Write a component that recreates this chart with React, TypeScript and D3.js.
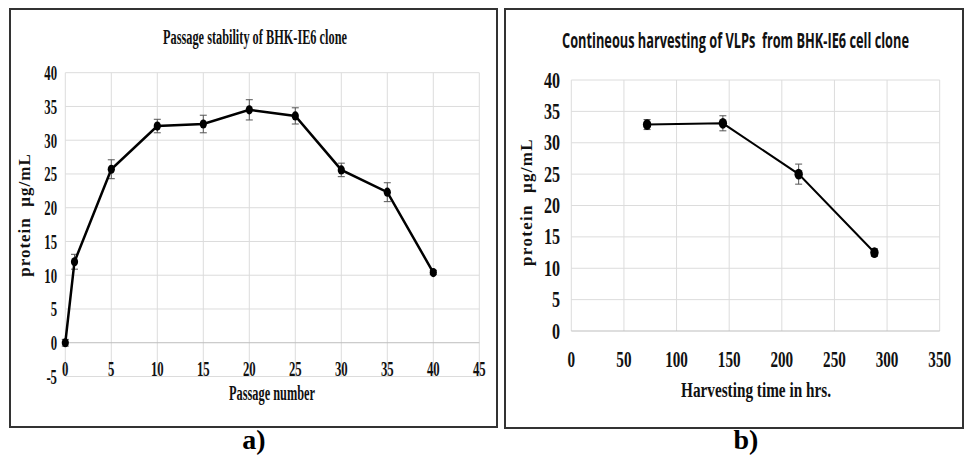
import React, { useEffect, useRef } from 'react';
import * as d3 from 'd3';

// panel a) passage stability
const passageNumbers = [0, 1, 5, 10, 15, 20, 25, 30, 35, 40];
const passageProtein = [0, 12.0, 25.7, 32.1, 32.4, 34.5, 33.6, 25.6, 22.3, 10.4];
const passageError = [0.5, 1.1, 1.4, 1.0, 1.3, 1.5, 1.2, 1.0, 1.4, 0.3];
const passageXTicks = [0, 5, 10, 15, 20, 25, 30, 35, 40, 45];
const passageYTicks = [-5, 0, 5, 10, 15, 20, 25, 30, 35, 40];

// panel b) continuous harvesting
const harvestHours = [72, 144, 216, 288];
const harvestProtein = [32.9, 33.1, 25.0, 12.5];
const harvestError = [0.8, 1.2, 1.6, 0.6];
const harvestXTicks = [0, 50, 100, 150, 200, 250, 300, 350];
const harvestYTicks = [0, 5, 10, 15, 20, 25, 30, 35, 40];

const serif = 'Liberation Serif, DejaVu Serif, serif';
const sans = 'Open Sans, Liberation Sans, sans-serif';

function App() {
    const svgRef = useRef<SVGSVGElement>(null);

    useEffect(() => {
        const svg = d3.select(svgRef.current);
        svg.selectAll('*').remove();

        svg.append('rect').attr('width', 968).attr('height', 463).attr('fill', 'white');

        // condensed text helper (narrow bold serif like the original)
        const condText = (g: any, x: number, y: number, txt: string, size: number, anchor: string, sx: number) => {
            g.append('text')
                .attr('transform', `translate(${x},${y}) scale(${sx},1)`)
                .attr('text-anchor', anchor)
                .style('font-family', serif)
                .attr('font-weight', 'bold')
                .attr('font-size', size)
                .attr('fill', '#111')
                .text(txt);
        };

        // centred text squeezed horizontally to a given width
        const fitText = (g: any, cx: number, y: number, txt: string, size: number, width: number, family: string) => {
            const t = g.append('text')
                .attr('text-anchor', 'middle')
                .style('font-family', family).style('white-space', 'pre')
                .attr('font-weight', 'bold')
                .attr('font-size', size)
                .attr('fill', '#111')
                .text(txt);
            const w = (t.node() as SVGTextElement).getComputedTextLength() || width;
            t.attr('transform', `translate(${cx},${y}) scale(${width / w},1)`);
        };

        // ---------- panel a ----------
        svg.append('rect')
            .attr('x', 10).attr('y', 9).attr('width', 487).attr('height', 418)
            .attr('fill', 'none').attr('stroke', '#333').attr('stroke-width', 2);

        const xA = d3.scaleLinear().domain([0, 45]).range([65.3, 479.3]);
        const yA = d3.scaleLinear().domain([-5, 40]).range([376.5, 72.7]);
        const gA = svg.append('g');

        gA.selectAll('.vgrid').data(passageXTicks).enter().append('line')
            .attr('x1', d => xA(d)).attr('x2', d => xA(d))
            .attr('y1', yA(-5)).attr('y2', yA(40))
            .attr('stroke', '#dcdcdc').attr('stroke-width', 1);
        gA.selectAll('.hgrid').data(passageYTicks).enter().append('line')
            .attr('x1', xA(0)).attr('x2', xA(45))
            .attr('y1', d => yA(d)).attr('y2', d => yA(d))
            .attr('stroke', d => d === 0 ? '#bdbdbd' : '#dcdcdc').attr('stroke-width', 1);

        passageYTicks.forEach(t => condText(gA, 57, yA(t) + 7.5, String(t), 22, 'end', 0.58));
        passageXTicks.forEach(t => condText(gA, xA(t), 376, String(t), 22, 'middle', 0.58));

        fitText(gA, 255, 44, 'Passage stability of BHK-IE6 clone', 22, 184, serif);
        fitText(gA, 272, 400, 'Passage number', 22, 86, serif);

        gA.append('text')
            .attr('transform', 'translate(30,215) rotate(-90)')
            .attr('text-anchor', 'middle')
            .style('font-family', serif).style('white-space', 'pre')
            .attr('font-weight', 'bold').attr('font-size', 17)
            .attr('letter-spacing', 1)
            .attr('fill', '#111')
            .text('protein  µg/mL');

        const dataA = passageNumbers.map((p, i) => ({ x: p, y: passageProtein[i], e: passageError[i] }));

        gA.selectAll('.errA').data(dataA).enter().append('g').each(function (d) {
            const g = d3.select(this);
            const cx = xA(d.x);
            g.append('line').attr('x1', cx).attr('x2', cx).attr('y1', yA(d.y - d.e)).attr('y2', yA(d.y + d.e))
                .attr('stroke', '#555').attr('stroke-width', 1);
            [d.y - d.e, d.y + d.e].forEach(v => g.append('line')
                .attr('x1', cx - 3.5).attr('x2', cx + 3.5).attr('y1', yA(v)).attr('y2', yA(v))
                .attr('stroke', '#555').attr('stroke-width', 1));
        });

        gA.append('path').datum(dataA)
            .attr('fill', 'none').attr('stroke', '#000').attr('stroke-width', 2.5)
            .attr('d', d3.line<any>().x(d => xA(d.x)).y(d => yA(d.y)));

        gA.selectAll('.ptA').data(dataA).enter().append('ellipse')
            .attr('cx', d => xA(d.x)).attr('cy', d => yA(d.y))
            .attr('rx', 3.6).attr('ry', 4.6).attr('fill', '#000');

        svg.append('text')
            .attr('x', 254).attr('y', 449).attr('text-anchor', 'middle')
            .style('font-family', serif).attr('font-weight', 'bold').attr('font-size', 28)
            .attr('fill', '#000').text('a)');

        // ---------- panel b ----------
        svg.append('rect')
            .attr('x', 505).attr('y', 9).attr('width', 458).attr('height', 419)
            .attr('fill', 'none').attr('stroke', '#333').attr('stroke-width', 2);

        const xB = d3.scaleLinear().domain([0, 350]).range([571.3, 939.7]);
        const yB = d3.scaleLinear().domain([0, 40]).range([331, 80]);
        const gB = svg.append('g');

        gB.selectAll('.vgrid').data(harvestXTicks).enter().append('line')
            .attr('x1', d => xB(d)).attr('x2', d => xB(d))
            .attr('y1', yB(0)).attr('y2', yB(40))
            .attr('stroke', '#dcdcdc').attr('stroke-width', 1);
        gB.selectAll('.hgrid').data(harvestYTicks).enter().append('line')
            .attr('x1', xB(0)).attr('x2', xB(350))
            .attr('y1', d => yB(d)).attr('y2', d => yB(d))
            .attr('stroke', d => d === 0 ? '#bdbdbd' : '#dcdcdc').attr('stroke-width', 1);

        harvestYTicks.forEach(t => condText(gB, 560, yB(t) + 7.5, String(t), 23, 'end', 0.7));
        harvestXTicks.forEach(t => condText(gB, xB(t), 367, String(t), 23, 'middle', 0.66));

        fitText(gB, 735.5, 48, 'Contineous harvesting of VLPs  from BHK-IE6 cell clone', 21, 347, sans);
        fitText(gB, 756, 397, 'Harvesting time in hrs.', 22, 150, serif);

        gB.append('text')
            .attr('transform', 'translate(532,202) rotate(-90)')
            .attr('text-anchor', 'middle')
            .style('font-family', serif).style('white-space', 'pre')
            .attr('font-weight', 'bold').attr('font-size', 17)
            .attr('letter-spacing', 1.3)
            .attr('fill', '#111')
            .text('protein  µg/mL');

        const dataB = harvestHours.map((h, i) => ({ x: h, y: harvestProtein[i], e: harvestError[i] }));

        gB.selectAll('.errB').data(dataB).enter().append('g').each(function (d) {
            const g = d3.select(this);
            const cx = xB(d.x);
            g.append('line').attr('x1', cx).attr('x2', cx).attr('y1', yB(d.y - d.e)).attr('y2', yB(d.y + d.e))
                .attr('stroke', '#555').attr('stroke-width', 1);
            [d.y - d.e, d.y + d.e].forEach(v => g.append('line')
                .attr('x1', cx - 3.5).attr('x2', cx + 3.5).attr('y1', yB(v)).attr('y2', yB(v))
                .attr('stroke', '#555').attr('stroke-width', 1));
        });

        gB.append('path').datum(dataB)
            .attr('fill', 'none').attr('stroke', '#000').attr('stroke-width', 2)
            .attr('d', d3.line<any>().x(d => xB(d.x)).y(d => yB(d.y)));

        gB.selectAll('.ptB').data(dataB).enter().append('ellipse')
            .attr('cx', d => xB(d.x)).attr('cy', d => yB(d.y))
            .attr('rx', 4.2).attr('ry', 5.4).attr('fill', '#000');

        svg.append('text')
            .attr('x', 746).attr('y', 449).attr('text-anchor', 'middle')
            .style('font-family', serif).attr('font-weight', 'bold').attr('font-size', 28)
            .attr('fill', '#000').text('b)');
    });

    return (
        <div style={{ position: 'absolute', left: 0, top: 0 }}>
            <svg ref={svgRef} width={968} height={463} style={{ display: 'block' }}></svg>
        </div>
    );
}

export default App;
